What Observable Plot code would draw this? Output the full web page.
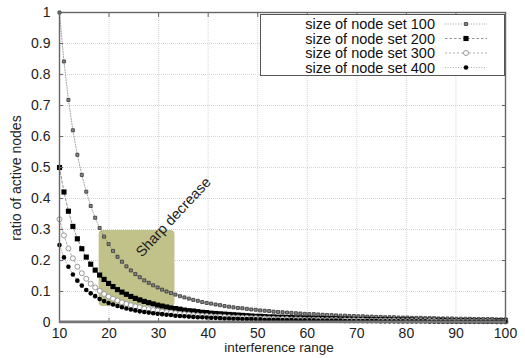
<!DOCTYPE html>
<html><head><meta charset="utf-8">
<script src="https://cdn.jsdelivr.net/npm/d3@7"></script>
<script src="https://cdn.jsdelivr.net/npm/@observablehq/plot@0.6"></script>
<style>
body{margin:0;background:#fff;}
#chart{width:525px;height:358px;}
</style>
</head><body><div id="chart"></div>
<script>
// interference range (x) sample positions
const interferenceRange = [10,10.9,11.8,12.7,13.6,14.5,15.4,16.3,17.2,18.1,
  19,19.9,20.8,21.7,22.6,23.5,24.4,25.3,26.2,27.1,
  28,28.9,29.8,30.7,31.6,32.5,33.4,34.3,35.2,36.1,
  37,37.9,38.8,39.7,40.6,41.5,42.4,43.3,44.2,45.1,
  46,46.9,47.8,48.7,49.6,50.5,51.4,52.3,53.2,54.1,
  55,55.9,56.8,57.7,58.6,59.5,60.4,61.3,62.2,63.1,
  64,64.9,65.8,66.7,67.6,68.5,69.4,70.3,71.2,72.1,
  73,73.9,74.8,75.7,76.6,77.5,78.4,79.3,80.2,81.1,
  82,82.9,83.8,84.7,85.6,86.5,87.4,88.3,89.2,90.1,
  91,91.9,92.8,93.7,94.6,95.5,96.4,97.3,98.2,99.1,100];

const set100 = [1.000,.842,.718,.620,.541,.476,.422,.376,.338,.305,
  .277,.253,.231,.212,.196,.181,.168,.156,.146,.136,
  .128,.120,.113,.106,.100,.095,.090,.085,.081,.077,
  .073,.070,.066,.063,.061,.058,.056,.053,.051,.049,
  .047,.046,.044,.042,.041,.039,.038,.037,.035,.034,
  .033,.032,.031,.030,.029,.028,.027,.027,.026,.025,
  .024,.024,.023,.022,.022,.021,.021,.020,.020,.019,
  .019,.018,.018,.017,.017,.017,.016,.016,.016,.015,
  .015,.015,.014,.014,.014,.013,.013,.013,.013,.012,
  .012,.012,.012,.011,.011,.011,.011,.011,.010,.010,.010];

const set200 = [.500,.421,.359,.310,.270,.238,.211,.188,.169,.153,
  .139,.126,.116,.106,.098,.091,.084,.078,.073,.068,
  .064,.060,.056,.053,.050,.047,.045,.043,.040,.038,
  .037,.035,.033,.032,.030,.029,.028,.027,.026,.025,
  .024,.023,.022,.021,.020,.020,.019,.018,.018,.017,
  .017,.016,.016,.015,.015,.014,.014,.013,.013,.013,
  .012,.012,.012,.011,.011,.011,.010,.010,.010,.010,
  .009,.009,.009,.009,.009,.008,.008,.008,.008,.008,
  .007,.007,.007,.007,.007,.007,.007,.006,.006,.006,
  .006,.006,.006,.006,.006,.005,.005,.005,.005,.005,.005];

const set300 = [.333,.281,.239,.207,.180,.159,.141,.125,.113,.102,
  .092,.084,.077,.071,.065,.060,.056,.052,.049,.045,
  .043,.040,.038,.035,.033,.032,.030,.028,.027,.026,
  .024,.023,.022,.021,.020,.019,.019,.018,.017,.016,
  .016,.015,.015,.014,.014,.013,.013,.012,.012,.011,
  .011,.011,.010,.010,.010,.009,.009,.009,.009,.008,
  .008,.008,.008,.007,.007,.007,.007,.007,.007,.006,
  .006,.006,.006,.006,.006,.006,.005,.005,.005,.005,
  .005,.005,.005,.005,.005,.004,.004,.004,.004,.004,
  .004,.004,.004,.004,.004,.004,.004,.004,.003,.003,.003];

const set400 = [.250,.210,.180,.155,.135,.119,.105,.094,.085,.076,
  .069,.063,.058,.053,.049,.045,.042,.039,.036,.034,
  .032,.030,.028,.027,.025,.024,.022,.021,.020,.019,
  .018,.017,.017,.016,.015,.015,.014,.013,.013,.012,
  .012,.011,.011,.011,.010,.010,.009,.009,.009,.009,
  .008,.008,.008,.007,.007,.007,.007,.007,.006,.006,
  .006,.006,.006,.006,.005,.005,.005,.005,.005,.005,
  .005,.005,.004,.004,.004,.004,.004,.004,.004,.004,
  .004,.004,.004,.003,.003,.003,.003,.003,.003,.003,
  .003,.003,.003,.003,.003,.003,.003,.003,.003,.003,.003];

const seriesNames = ["size of node set 100","size of node set 200","size of node set 300","size of node set 400"];
const seriesValues = [set100, set200, set300, set400];

const xTicks = [10,20,30,40,50,60,70,80,90,100];
const yTicks = [0,0.1,0.2,0.3,0.4,0.5,0.6,0.7,0.8,0.9,1];
const yTickLabels = ["0","0.1","0.2","0.3","0.4","0.5","0.6","0.7","0.8","0.9","1"];

// highlighted region
const highlightX = [18, 33.3];
const highlightY = [0.052, 0.297];
const annotationText = ["Sharp decrease"];
const annotationX = [33.0];
const annotationY = [0.34];

const xLabel = "interference range";
const yLabel = "ratio of active nodes";

// styles per series
const styles = [
  {symbol:"square", r:1.7, fill:"#888", stroke:"#333", sw:0.8, line:"#888", dash:"1,1.6"},
  {symbol:"square", r:2.9, fill:"#000", stroke:"none", sw:0, line:"#777", dash:"2.5,2"},
  {symbol:"circle", r:2.5, fill:"#fff", stroke:"#999", sw:1, line:"#999", dash:"2,2"},
  {symbol:"circle", r:2.3, fill:"#000", stroke:"none", sw:0, line:"#999", dash:"1,1.6"}
];

const rows = [];
seriesNames.forEach((name, s) => {
  seriesValues[s].forEach((v, i) => rows.push({x: interferenceRange[i], y: v, series: name, s}));
});

const FONT = "'Liberation Sans', Arial, Helvetica, sans-serif";
const marks = [
  Plot.gridX(xTicks, {stroke:"#d6d6d6", strokeOpacity:1, strokeDasharray:"1,1"}),
  Plot.gridY(yTicks, {stroke:"#d6d6d6", strokeOpacity:1, strokeDasharray:"1,1"}),
  Plot.rect([0], {x1: () => highlightX[0], x2: () => highlightX[1], y1: () => highlightY[0], y2: () => highlightY[1], fill:"#c1c18a", rx:4}),
];
seriesNames.forEach((name, s) => {
  const st = styles[s];
  const d = rows.filter(r => r.s === s);
  marks.push(Plot.line(d, {x:"x", y:"y", stroke: st.line, strokeWidth:0.8, strokeDasharray: st.dash}));
});
seriesNames.forEach((name, s) => {
  const st = styles[s];
  const d = rows.filter(r => r.s === s);
  marks.push(Plot.dot(d, {x:"x", y:"y", symbol: st.symbol, r: st.r, fill: st.fill, stroke: st.stroke, strokeWidth: st.sw}));
});
marks.push(
  Plot.text(annotationText, {x: (d,i) => annotationX[i], y: (d,i) => annotationY[i], text: d => d, rotate:-47, fontSize:14.5, fill:"#222", fontFamily: FONT}),
  Plot.frame({stroke:"#666", strokeWidth:1.4}),
  Plot.axisX(xTicks, {anchor:"bottom", tickSize:-4, tickPadding:10, fontSize:14, label:null, stroke:"#666", fill:"#222"}),
  Plot.axisX(xTicks, {anchor:"top", tickSize:-4, tickFormat: () => "", label:null, stroke:"#666"}),
  Plot.axisY(yTicks, {anchor:"left", tickSize:-4, tickPadding:13, fontSize:14, label:null, tickFormat: (d,i) => yTickLabels[yTicks.indexOf(d)], stroke:"#666", fill:"#222"}),
  Plot.axisY(yTicks, {anchor:"right", tickSize:-4, tickFormat: () => "", label:null, stroke:"#666"})
);

const chart = Plot.plot({
  width:525, height:358,
  marginLeft:59, marginRight:20, marginTop:12, marginBottom:36,
  style:{fontFamily: FONT, background:"#fff", overflow:"visible"},
  x:{domain:[10,100]},
  y:{domain:[0,1]},
  marks
});
document.getElementById("chart").appendChild(chart);

// bottom axis line slightly heavier
const svg = d3.select(chart);
svg.append("line").attr("x1",59).attr("x2",505).attr("y1",321.7).attr("y2",321.7)
  .attr("stroke","#777").attr("stroke-width",2.2);

// axis titles
svg.append("text").attr("x",279).attr("y",352).attr("text-anchor","middle")
  .attr("font-size",13.5).attr("font-family",FONT).attr("fill","#222").text(xLabel);
svg.append("text").attr("transform","translate(21,178) rotate(-90)").attr("text-anchor","middle")
  .attr("font-size",14).attr("font-family",FONT).attr("fill","#222").text(yLabel);

// legend
const lg = svg.append("g");
lg.append("rect").attr("x",260.5).attr("y",14.5).attr("width",244).attr("height",61)
  .attr("fill","#fff").attr("stroke","#555").attr("stroke-width",1);
seriesNames.forEach((name, s) => {
  const st = styles[s];
  const cy = 24 + s*14.5;
  lg.append("text").attr("x",435).attr("y",cy).attr("dy","0.36em").attr("text-anchor","end")
    .attr("font-size",14.5).attr("font-family",FONT).attr("fill","#111").text(name);
  lg.append("line").attr("x1",445).attr("x2",487).attr("y1",cy).attr("y2",cy)
    .attr("stroke",st.line).attr("stroke-width",0.8).attr("stroke-dasharray",st.dash);
  const sym = d3.symbol(st.symbol === "square" ? d3.symbolSquare : d3.symbolCircle, Math.PI*st.r*st.r);
  lg.append("path").attr("d", sym()).attr("transform",`translate(466,${cy})`)
    .attr("fill",st.fill).attr("stroke",st.stroke).attr("stroke-width",st.sw);
});
</script>
</body></html>
